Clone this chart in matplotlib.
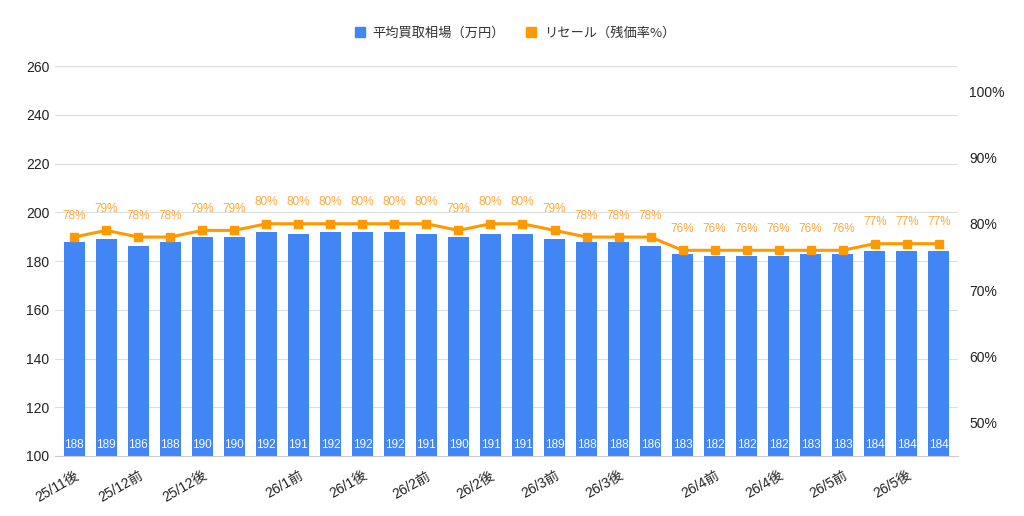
import numpy as np
import matplotlib.pyplot as plt
from matplotlib.patches import Patch

plt.rcParams['font.family'] = ['Liberation Sans', 'Noto Sans CJK JP', 'DejaVu Sans']

# data
periods = ['25/11後', '25/11後', '25/12前', '25/12前', '25/12後', '25/12後', '25/12後',
           '26/1前', '26/1前', '26/1後', '26/1後', '26/2前', '26/2前', '26/2後', '26/2後',
           '26/3前', '26/3前', '26/3後', '26/3後', '26/3後', '26/4前', '26/4前',
           '26/4後', '26/4後', '26/5前', '26/5前', '26/5後', '26/5後']
price = [188, 189, 186, 188, 190, 190, 192, 191, 192, 192, 192, 191, 190, 191,
         191, 189, 188, 188, 186, 183, 182, 182, 182, 183, 183, 184, 184, 184]
resale = [78, 79, 78, 78, 79, 79, 80, 80, 80, 80, 80, 80, 79, 80,
          80, 79, 78, 78, 78, 76, 76, 76, 76, 76, 76, 77, 77, 77]

blue = '#4285f4'
orange = '#ff9900'
label_orange = '#f8a93c'
grid = '#dddddd'
txt = '#222222'

x = np.arange(len(price))

fig = plt.figure(figsize=(10.24, 5.16), dpi=100)
ax = fig.add_axes([0.0537, 0.1163, 0.8818, 0.7557])
ax2 = ax.twinx()

ax.set_zorder(1)
ax2.set_zorder(2)
ax.patch.set_visible(False)

ax.bar(x, price, width=0.66, color=blue, zorder=2)
for xi, v in zip(x, price):
    ax.text(xi, 104.5, str(v), ha='center', va='center', color='white', fontsize=8.5, zorder=3)

ax.set_ylim(100, 260)
ax.set_yticks(np.arange(100, 261, 20))
ax.set_xlim(-0.6, len(price) - 0.4)
ax.grid(axis='y', color=grid, linewidth=0.8, zorder=0)
ax.set_axisbelow(True)

ax2.plot(x, resale, color=orange, linewidth=2.2, marker='s', markersize=6, zorder=3)
for xi, v in zip(x, resale):
    ax2.annotate(f'{v}%', (xi, v), xytext=(0, 11), textcoords='offset points',
                 ha='center', va='bottom', color=label_orange, fontsize=8.5)
ax2.set_ylim(45.0, 103.77)
ax2.set_yticks([50, 60, 70, 80, 90, 100])
ax2.set_yticklabels([f'{t}%' for t in [50, 60, 70, 80, 90, 100]])

# show each period label once, at its first slot
tick_pos = [i for i in range(len(periods)) if i == 0 or periods[i] != periods[i - 1]]
ax.set_xticks(tick_pos)
ax.set_xticklabels([periods[i] for i in tick_pos], rotation=30, ha='right',
                   rotation_mode='anchor', fontsize=9.5, color=txt)

for a in (ax, ax2):
    for s in a.spines.values():
        s.set_visible(False)
    a.tick_params(length=0, labelsize=10, colors=txt)
ax.spines['bottom'].set_visible(True)
ax.spines['bottom'].set_color('#cccccc')
ax.tick_params(axis='y', pad=4)
ax.tick_params(axis='x', pad=9)
ax2.tick_params(axis='y', pad=8)

# legend
handles = [Patch(color=blue, label='平均買取相場（万円）'),
           Patch(color=orange, label='リセール（残価率%）')]
fig.legend(handles=handles, loc='center', bbox_to_anchor=(0.503, 0.936), ncol=2,
           frameon=False, handlelength=0.75, handleheight=0.75,
           columnspacing=1.6, handletextpad=0.6, labelcolor='#333333',
           prop={'family': ['Noto Sans CJK JP'], 'size': 9.5})

fig.savefig('out.png', dpi=100)
